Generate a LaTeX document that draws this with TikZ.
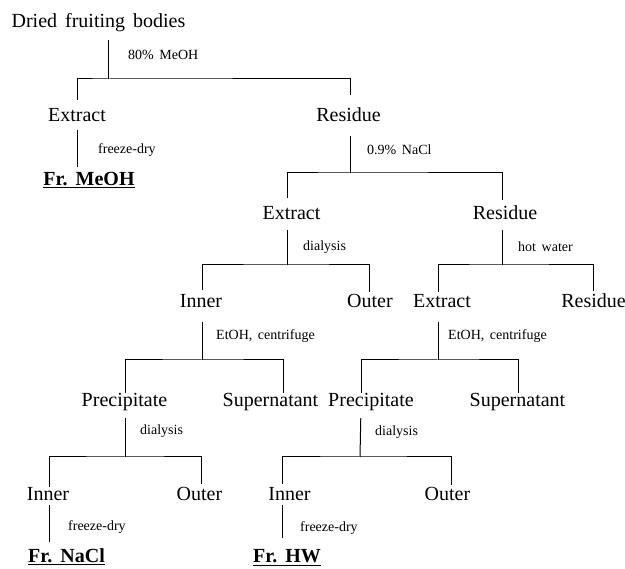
\documentclass[tikz,border=0pt]{standalone}
\usepackage{fontspec}
\setmainfont{Liberation Serif}[WordSpace=1.6]
\usetikzlibrary{calc}
\tikzset{
  mainlbl/.style={font=\fontsize{20}{24}\selectfont, inner sep=0pt, text height=14pt, text depth=0pt, anchor=base},
  fraclbl/.style={mainlbl, font=\fontsize{20}{24}\selectfont\bfseries},
  steplbl/.style={font=\fontsize{14}{17}\selectfont, inner sep=0pt, anchor=base west},
  conn/.style={line width=1pt, black}
}
\begin{document}
\begin{tikzpicture}[x=1pt, y=-1pt]
\useasboundingbox (0,0) rectangle (625,569);
% main nodes
\node[mainlbl] (dried) at (98.5,28) {Dried fruiting bodies};
\node[mainlbl] (ext1) at (77,122) {Extract};
\node[mainlbl] (res1) at (348.5,122) {Residue};
\node[fraclbl] (frmeoh) at (89,186) {\underline{Fr.\ MeOH}};
\node[mainlbl] (ext2) at (291.5,220) {Extract};
\node[mainlbl] (res2) at (505,220) {Residue};
\node[mainlbl] (inn3) at (201,308) {Inner};
\node[mainlbl] (out3) at (370,308) {Outer};
\node[mainlbl] (ext3) at (442,308) {Extract};
\node[mainlbl] (res3) at (593.5,308) {Residue};
\node[mainlbl] (pre4L) at (124.5,407) {Precipitate};
\node[mainlbl] (sup4L) at (270.5,407) {Supernatant};
\node[mainlbl] (pre4R) at (371,407) {Precipitate};
\node[mainlbl] (sup4R) at (517.5,407) {Supernatant};
\node[mainlbl] (inn5L) at (48,501) {Inner};
\node[mainlbl] (out5L) at (199.5,501) {Outer};
\node[mainlbl] (inn5R) at (289.5,501) {Inner};
\node[mainlbl] (out5R) at (447.5,501) {Outer};
\node[fraclbl] (frnacl) at (66.5,563) {\underline{Fr.\ NaCl}};
\node[fraclbl] (frhw) at (287,563) {\underline{Fr.\ HW}};
% step labels
\node[steplbl] (sA) at (128,60) {80\% MeOH};
\node[steplbl] (s1) at (98,154) {freeze-dry};
\node[steplbl] (sB) at (367,155) {0.9\% NaCl};
\node[steplbl] (sC) at (303,251) {dialysis};
\node[steplbl] (sD) at (518,252) {hot water};
\node[steplbl] (sE) at (216,340) {EtOH, centrifuge};
\node[steplbl] (sF) at (448,340) {EtOH, centrifuge};
\node[steplbl] (sG) at (140,435) {dialysis};
\node[steplbl] (sH) at (375,436) {dialysis};
\node[steplbl] (s2) at (68,531) {freeze-dry};
\node[steplbl] (s3) at (300,532) {freeze-dry};
% junctions
\coordinate (jA) at (108,79);
\coordinate (jB) at (350,173);
\coordinate (jC) at (287,265);
\coordinate (jD) at (502,265);
\coordinate (jE) at (202,360);
\coordinate (jF) at (438,360);
\coordinate (jG) at (125,457);
\coordinate (jH) at (360,457);
% split A
\draw[conn] ([xshift=9.5pt,yshift=-12pt]dried.south) -- (jA);
\draw[conn, shorten <=8pt, shorten >=13pt] (ext1.north) |- (jA) -| ([xshift=1.5pt]res1.north);
\draw[conn, shorten <=8pt, shorten >=5pt] (ext1.south) -- (ext1.south |- frmeoh.north);
% split B
\draw[conn, shorten <=14pt] ([xshift=1.5pt]res1.south) -- (jB);
\draw[conn, shorten <=8pt, shorten >=6pt] ([xshift=-4.5pt]ext2.north) |- (jB) -| ([xshift=-3pt]res2.north);
% split C
\draw[conn, shorten <=10pt] ([xshift=-4.5pt]ext2.south) -- (jC);
\draw[conn, shorten <=4pt, shorten >=2pt] ([xshift=1pt]inn3.north) |- (jC) -| ([xshift=-1pt]out3.north);
% split D
\draw[conn, shorten <=10pt] ([xshift=-3pt]res2.south) -- (jD);
\draw[conn, shorten <=2pt, shorten >=3pt] ([xshift=-4pt]ext3.north) |- (jD) -| ([xshift=-0.5pt]res3.north);
% split E
\draw[conn, shorten <=14pt] ([xshift=1pt]inn3.south) -- (jE);
\draw[conn] ([xshift=0.5pt]pre4L.north) |- (jE) -| ([xshift=12.5pt]sup4L.north);
% split F
\draw[conn, shorten <=14pt] ([xshift=-4pt]ext3.south) -- (jF);
\draw[conn] ([xshift=-10pt]pre4R.north) |- (jF) -| ([xshift=0.5pt]sup4R.north);
% split G
\draw[conn, shorten <=11pt] ([xshift=0.5pt]pre4L.south) -- (jG);
\draw[conn, shorten >=3pt] ([xshift=1.5pt]inn5L.north) |- (jG) -| ([xshift=1.5pt]out5L.north);
% split H
\draw[conn, shorten <=11pt] ([xshift=-10pt]pre4R.south) -- (jH);
\draw[conn, shorten <=3pt, shorten >=2pt] ([xshift=-7pt]inn5R.north) |- (jH) -| ([xshift=3.5pt]out5R.north);
% final edges
\draw[conn, shorten <=4pt, shorten >=7pt] ($(inn5L.south)+(1.5,0)$) -- ($(inn5L.south |- frnacl.north)+(1.5,0)$);
\draw[conn, shorten <=4pt, shorten >=11pt] ($(inn5R.south)+(-7,0)$) -- ($(inn5R.south |- frhw.north)+(-7,0)$);
\end{tikzpicture}
\end{document}
